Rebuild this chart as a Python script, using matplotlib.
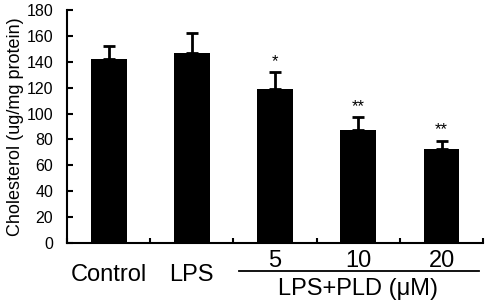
import numpy as np
import matplotlib
matplotlib.use('Agg')
from matplotlib import pyplot as plt
from matplotlib import transforms

plt.rcParams['font.family'] = ['Liberation Sans', 'DejaVu Sans']

# data
groups = ['Control', 'LPS', '5', '10', '20']
means = [142, 147, 119, 87, 73]
errs = [10, 15, 13, 10, 6]
stars = ['', '', '*', '**', '**']
yticks = [0, 20, 40, 60, 80, 100, 120, 140, 160, 180]

fig = plt.figure(figsize=(4.89, 3.03), dpi=100)
ax = fig.add_axes([0.137, 0.198, 0.851, 0.769])

x = np.arange(len(groups))
ax.bar(x, means, width=0.43, color='black', zorder=2)
ax.errorbar(x, means, yerr=[np.zeros(len(errs)), errs], fmt='none',
            ecolor='black', elinewidth=2.0, capsize=4.3, capthick=2.0, zorder=1)

for xi, m, e, s in zip(x, means, errs, stars):
    if s:
        ax.text(xi, m + e + 5, s, ha='center', va='baseline', fontsize=12)

ax.set_xlim(-0.5, 4.5)
ax.set_ylim(0, 180)
ax.set_yticks(yticks)
ax.tick_params(axis='y', direction='in', length=4, width=1.5, labelsize=11.5, pad=10)
ax.set_xticks(np.arange(-0.5, 5, 1.0))
ax.set_xticklabels([])
ax.tick_params(axis='x', direction='in', length=3.5, width=1.5)
for sp in ['top', 'right']:
    ax.spines[sp].set_visible(False)
for sp in ['left', 'bottom']:
    ax.spines[sp].set_linewidth(1.5)
ax.set_ylabel('Cholesterol (ug/mg protein)', fontsize=13, labelpad=2)

tr = transforms.blended_transform_factory(ax.transData, ax.transAxes)
for i in range(2):
    ax.text(x[i], -0.163, groups[i], transform=tr, ha='center', va='baseline', fontsize=17)
for i in range(2, 5):
    ax.text(x[i], -0.105, groups[i], transform=tr, ha='center', va='baseline', fontsize=17)
ax.plot([1.57, 4.45], [-0.122, -0.122], transform=tr, color='black', lw=1.3, clip_on=False)
ax.text(3.0, -0.221, 'LPS+PLD (μM)', transform=tr, ha='center', va='baseline', fontsize=17)

fig.savefig('out.png', dpi=100)
